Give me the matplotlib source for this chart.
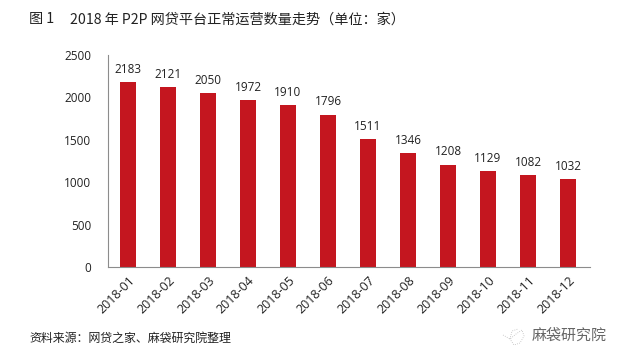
import matplotlib
matplotlib.use("Agg")
import matplotlib.pyplot as plt
from matplotlib.lines import Line2D

plt.rcParams['font.family'] = ['Noto Sans CJK SC', 'DejaVu Sans']

months = ["2018-01", "2018-02", "2018-03", "2018-04", "2018-05", "2018-06",
          "2018-07", "2018-08", "2018-09", "2018-10", "2018-11", "2018-12"]
platforms = [2183, 2121, 2050, 1972, 1910, 1796, 1511, 1346, 1208, 1129, 1082, 1032]
y_ticks = [0, 500, 1000, 1500, 2000, 2500]

title_left = "图 1"
title = "2018 年 P2P 网贷平台正常运营数量走势（单位：家）"
source = "资料来源：网贷之家、麻袋研究院整理"
watermark = "麻袋研究院"

# little bird logo next to the watermark, in pixels
logo_x = [503, 510, 516, 522, 524, 520, 514, 510, 512, 518]
logo_y = [335, 339, 334, 330, 336, 343, 345, 339, 331, 329]

W, H = 626, 362
fig = plt.figure(figsize=(W / 100, H / 100), dpi=100)
ax = fig.add_axes([108 / W, 1 - 267 / H, 482 / W, 212 / H])

bars = ax.bar(months, platforms, width=0.4, color="#c4161f")
for i, v in enumerate(platforms):
    ax.annotate(str(v), (i, v), xytext=(0, 4.5), textcoords="offset points",
                ha="center", va="bottom", fontsize=8.5, color="#222222",
                family="Open Sans")

ax.set_xlim(-0.5, 11.55)
ax.set_ylim(0, 2500)
ax.set_yticks(y_ticks)
ax.tick_params(axis="y", length=0, pad=12, labelsize=8.5, labelcolor="#222222")
ax.tick_params(axis="x", length=0, pad=5, labelsize=9, labelcolor="#222222")
for lab in ax.get_yticklabels() + ax.get_xticklabels():
    lab.set_family("Open Sans")
for lab in ax.get_xticklabels():
    lab.set_rotation(45)
    lab.set_ha("right")
    lab.set_rotation_mode("anchor")

ax.spines["top"].set_visible(False)
ax.spines["right"].set_visible(False)
ax.spines["left"].set_color("#8c8c8c")
ax.spines["bottom"].set_color("#8c8c8c")

fig.text(29 / W, 1 - 19.5 / H, title_left, fontsize=10.2, color="#222222", va="center", ha="left")
fig.text(70 / W, 1 - 19.5 / H, title, fontsize=10.2, color="#222222", va="center", ha="left")
fig.text(29 / W, 1 - 338 / H, source, fontsize=8.6, color="#222222", va="center", ha="left")
fig.text(532 / W, 1 - 336 / H, watermark, fontsize=10.8, color="#666666", va="center", ha="left")
fig.add_artist(Line2D([x / W for x in logo_x], [1 - y / H for y in logo_y],
                      color="#bbbbbb", lw=0.6, ls=":"))

fig.savefig("out.png", dpi=100)
